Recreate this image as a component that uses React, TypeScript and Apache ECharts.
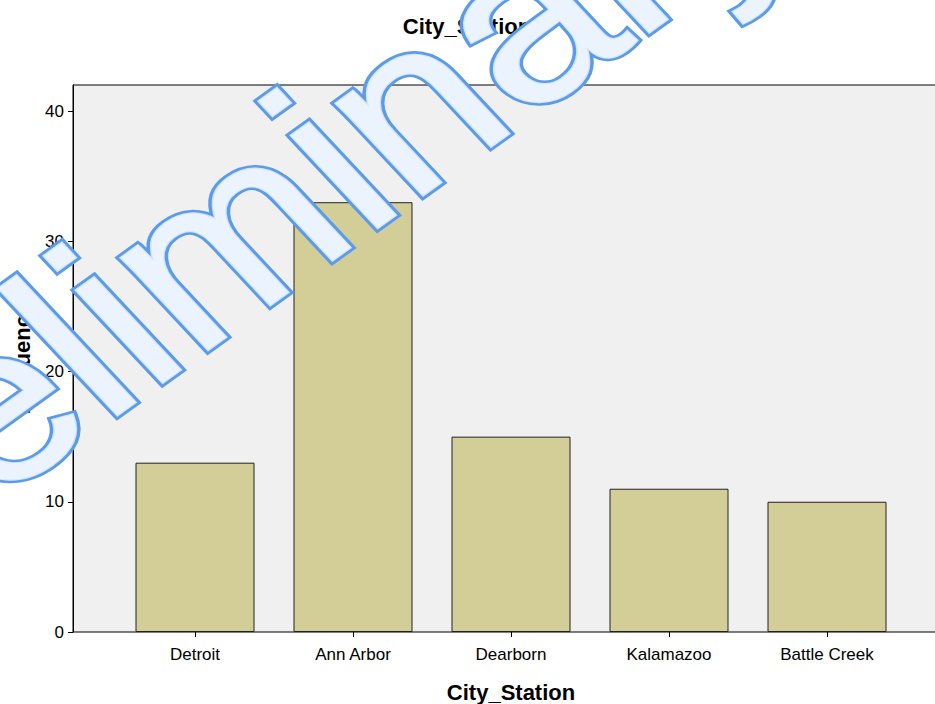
import React, { useEffect, useRef } from "react";
import * as echarts from "echarts";

const categories = ["Detroit", "Ann Arbor", "Dearborn", "Kalamazoo", "Battle Creek"];
const frequencies = [13, 33, 15, 11, 10];
const yTicks = [0, 10, 20, 30, 40];
const chartTitle = "City_Station";
const xTitle = "City_Station";
const yTitle = "Frequency";
const watermark = "Preliminary";

const FONT = "'Liberation Sans', Arial, sans-serif";

export default function App() {
  const ref = useRef<HTMLDivElement>(null);
  useEffect(() => {
    if (!ref.current) return;
    const chart = echarts.init(ref.current, null, { renderer: "svg" });
    const yMin = 0;
    const yMax = 42;
    const wm = {
      x: 236,
      y: 317,
      rotation: Math.PI / 4,
      silent: true,
    };
    const wmFont = {
      text: watermark,
      fontFamily: FONT,
      fontSize: 288,
      fontStyle: "italic",
      textAlign: "center",
      textVerticalAlign: "middle",
      lineJoin: "round",
    };
    chart.setOption({
      animation: false,
      backgroundColor: "#ffffff",
      textStyle: { fontFamily: FONT },
      title: {
        text: chartTitle,
        left: 462,
        textAlign: "center",
        top: 10,
        textStyle: { fontFamily: FONT, fontSize: 22, fontWeight: "bold", color: "#000" },
      },
      grid: [
        {
          left: 73,
          top: 85,
          width: 876,
          height: 547,
          show: true,
          backgroundColor: "#f0f0f0",
          borderColor: "#000",
          borderWidth: 1,
          outerBoundsMode: "none",
          containLabel: false,
        },
        { left: 116, top: 85, width: 790, height: 547, outerBoundsMode: "none", containLabel: false },
      ],
      xAxis: [
        { gridIndex: 0, type: "value", min: 0, max: 1, show: false },
        {
          gridIndex: 1,
          type: "category",
          data: categories,
          boundaryGap: true,
          axisLine: { show: false },
          axisTick: { show: true, alignWithLabel: true, length: 5, lineStyle: { color: "#000" } },
          axisLabel: { fontFamily: FONT, fontSize: 17, color: "#000", margin: 14 },
          name: xTitle,
          nameLocation: "middle",
          nameGap: 49,
          nameTextStyle: { fontFamily: FONT, fontSize: 22, fontWeight: "bold", color: "#000" },
        },
      ],
      yAxis: [
        {
          gridIndex: 0,
          type: "value",
          min: yMin,
          max: yMax,
          interval: 10,
          splitLine: { show: false },
          axisLine: { show: true, lineStyle: { color: "#000" } },
          axisTick: { show: true, length: 5, customValues: yTicks, lineStyle: { color: "#000" } },
          axisLabel: {
            fontFamily: FONT,
            fontSize: 17,
            color: "#000",
            margin: 9,
            customValues: yTicks,
          },
          name: yTitle,
          nameLocation: "middle",
          nameGap: 40,
          nameRotate: 90,
          nameTextStyle: { fontFamily: FONT, fontSize: 22, fontWeight: "bold", color: "#000" },
        },
        { gridIndex: 1, type: "value", min: yMin, max: yMax, show: false },
      ],
      series: [
        {
          type: "bar",
          xAxisIndex: 1,
          yAxisIndex: 1,
          data: frequencies,
          barWidth: 119,
          itemStyle: { color: "#d3ce97", borderColor: "#222", borderWidth: 1 },
        },
      ],
      graphic: [
        {
          type: "group",
          x: 0,
          y: 0,
          scaleY: 0.72,
          z: 100,
          silent: true,
          children: [
            {
              type: "text",
              ...wm,
              z: 100,
              style: { ...wmFont, fill: "#5b9bea", stroke: "#5b9bea", lineWidth: 10 },
            },
            {
              type: "text",
              ...wm,
              z: 101,
              style: { ...wmFont, fill: "#eaf3fe", stroke: "#d3e6fb", lineWidth: 3 },
            },
          ],
        },
      ],
    });
    return () => chart.dispose();
  }, []);
  return (
    <div style={{ position: "fixed", left: 0, top: 0, width: 935, height: 704, overflow: "hidden" }}>
      <div ref={ref} style={{ width: 960, height: 704 }} />
    </div>
  );
}
